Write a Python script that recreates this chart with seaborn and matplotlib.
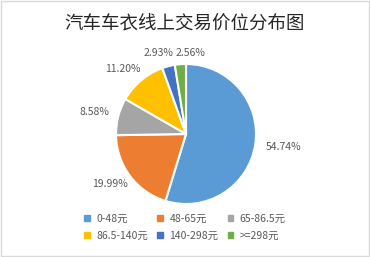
import matplotlib
matplotlib.use("Agg")
import matplotlib.pyplot as plt
import matplotlib.patches as mpatches
import seaborn as sns
import numpy as np

title = "汽车车衣线上交易价位分布图"
categories = ["0-48元", "48-65元", "65-86.5元", "86.5-140元", "140-298元", ">=298元"]
values = [54.74, 19.99, 8.58, 11.20, 2.93, 2.56]
colors = ["#5B9BD5", "#ED7D31", "#A5A5A5", "#FFC000", "#4472C4", "#70AD47"]

sns.set_theme(style="white")
plt.rcParams['font.family'] = ['Noto Sans CJK SC', 'DejaVu Sans']

W, H = 370, 257
fig = plt.figure(figsize=(W / 100, H / 100), dpi=100)
ax = fig.add_axes([0, 0, 1, 1])

cx, cy, r = 186, 134, 70
wedges, texts, autotexts = ax.pie(
    values, colors=colors, startangle=90, counterclock=False,
    autopct=lambda p: f"{p:.2f}%", pctdistance=1.33,
    wedgeprops=dict(edgecolor="white", linewidth=1.5),
    textprops=dict(fontsize=7.5, color="#595959"))

# label placement tweaks (radial distance, angular shift in degrees)
dist = [1.40, 1.30, 1.34, 1.29, 1.22, 1.16]
shift = [0.9, -3.7, 0.9, 4.2, 4.3, -7.8]
cum = 0
for t, v, d, s in zip(autotexts, values, dist, shift):
    mid = np.deg2rad(90 - (cum + v / 2) / 100 * 360 + s)
    cum += v
    t.set_position((d * np.cos(mid), d * np.sin(mid)))
    t.set_ha("center"); t.set_va("center")

ax.set_xlim(-cx / r, (W - cx) / r)
ax.set_ylim(-(H - cy) / r, cy / r)
ax.set_aspect("auto")
ax.axis("off")

fig.text(0.5, 1 - 24 / H, title, ha="center", va="center", fontsize=13.3, color="#262626")

handles = [mpatches.Patch(color=c, label=l) for c, l in zip(colors, categories)]
order = [0, 3, 1, 4, 2, 5]
leg = fig.legend([handles[i] for i in order], [categories[i] for i in order],
                 ncol=3, loc="center", bbox_to_anchor=(0.5, 1 - 227 / H),
                 frameon=False, fontsize=7.5, handlelength=0.55, handleheight=0.55,
                 handletextpad=0.6, columnspacing=0.9, labelspacing=0.7,
                 labelcolor="#595959")

fig.patches.append(mpatches.Rectangle((0.002, 0.003), 0.995, 0.993, transform=fig.transFigure,
                                      fill=False, edgecolor="#D9D9D9", linewidth=1))
fig.savefig("out.png", dpi=100)
